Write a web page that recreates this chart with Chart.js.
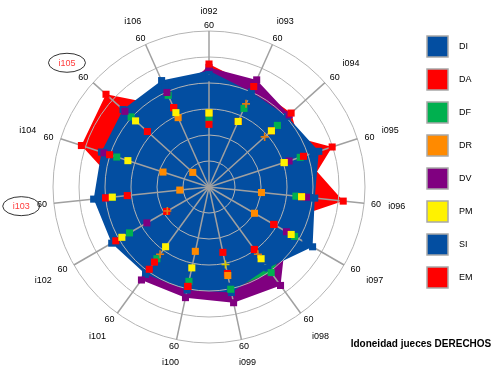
<!DOCTYPE html>
<html>
<head>
<meta charset="utf-8">
<script src="https://cdn.jsdelivr.net/npm/chart.js@4/dist/chart.umd.min.js"></script>
<style>
html,body{margin:0;padding:0;background:#fff;}
#wrap{width:501px;height:371px;position:relative;overflow:hidden;}
canvas{display:block;}
</style>
</head>
<body>
<div id="wrap"><canvas id="c" width="501" height="371"></canvas></div>
<script>
// ---- data ----
const categories = ['i092','i093','i094','i095','i096','i097','i098','i099','i100','i101','i102','i103','i104','i105','i106'];
const highlighted = ['i105','i103'];
const tickLabel = '60';
const scaleMax = 60;
const seriesNames = ['DI','DA','DF','DR','DV','PM','SI','EM'];

const DI = [44.7, 40.0, 40.5, 44.4, 40.9, 46.0, 38.5, 41.5, 40.5, 41.5, 43.2, 44.6, 43.5, 44.5, 44.8];
const DA = [24.1, 27.6, 32.3, 49.8, 35.8, 28.8, 29.7, 25.7, 39.1, 35.7, 18.8, 31.6, 51.6, 53.3, 33.4];
const DF = [26.2, 33.1, 35.4, 36.9, 33.6, 38.0, 40.7, 40.2, 37.1, 34.1, 35.3, 37.4, 37.3, 40.3, 38.6];
const DR = [28.5, 35.0, 28.8, 30.4, 20.3, 20.2, 32.0, 34.8, 25.3, 32.0, 18.5, 11.3, 18.6, 8.4, 29.2];
const DV = [46.0, 45.1, 41.5, 32.4, 37.7, 34.4, 46.8, 45.5, 43.5, 44.2, 27.6, 40.0, 42.5, 43.5, 39.8];
const PM = [28.5, 27.6, 32.3, 30.4, 35.8, 36.5, 34.1, 30.5, 31.8, 28.4, 38.7, 37.4, 32.8, 38.0, 31.3];
const SI = [42.0, 38.0, 38.0, 42.0, 39.0, 43.0, 35.0, 39.0, 38.0, 39.0, 41.0, 42.0, 41.0, 42.0, 42.0];
const EM = [47.3, 42.3, 42.5, 38.2, 51.9, 28.8, 29.7, 34.0, 39.1, 39.1, 41.4, 40.0, 40.2, 31.9, 33.4];

const chartTitle = 'Idoneidad jueces DERECHOS';

// ---- styling ----
const colors = {DI:'#034ea1', DA:'#ff0000', DF:'#00b04f', DR:'#ff8a00', DV:'#800080', PM:'#fff200', SI:'#034ea1', EM:'#ff0000'};
const values = {DI, DA, DF, DR, DV, PM, SI, EM};
// points drawn as small "+" marks in the reference
const crossPoints = {DR: ['i093','i094','i098','i101','i102'], PM: ['i099']};
// fill stacking (lower order = drawn on top)
const fillOrder = {DI:10, DA:11, DF:12, DR:13, DV:14, PM:15, SI:16, EM:17};
// marker stacking (lower order = drawn on top)
const markOrder = {PM:1, DR:2, DA:3, EM:4, DV:5, DF:6, SI:7, DI:8};

const datasets = [];
seriesNames.forEach(n => {
  datasets.push({
    label: n + ' area', data: values[n], order: fillOrder[n],
    backgroundColor: colors[n], borderWidth: 0, fill: true,
    pointRadius: 0, pointHoverRadius: 0
  });
});
seriesNames.forEach(n => {
  const crosses = crossPoints[n] || [];
  const isCross = c => crosses.includes(categories[c.dataIndex]);
  datasets.push({
    label: n, data: values[n], order: markOrder[n],
    showLine: false, fill: false, borderWidth: 0,
    pointStyle: c => isCross(c) ? 'cross' : 'rect',
    pointRadius: c => isCross(c) ? 4 : 5,
    pointBorderWidth: c => isCross(c) ? 1.6 : 0,
    pointBorderColor: n === 'DR' ? '#e07a10' : '#d8c800',
    pointBackgroundColor: colors[n], backgroundColor: colors[n]
  });
});

const FONT = '"Liberation Sans", Arial, sans-serif';
// the reference ring is slightly elliptical; labels follow it
const EX = 1.016, EY = 0.981;

const decorPlugin = {
  id: 'decor',
  afterDraw(chart) {
    const s = chart.scales.r;
    const ctx = chart.ctx;
    const R = s.drawingArea;
    const cx0 = s.xCenter, cy0 = s.yCenter;
    ctx.save();
    ctx.font = '9px ' + FONT;
    ctx.textAlign = 'center';
    ctx.textBaseline = 'middle';
    const th = 9;
    categories.forEach((cat, i) => {
      const ring = s.getPointPosition(i, R);
      const ux = (ring.x - cx0) / R, uy = (ring.y - cy0) / R;
      const bx = cx0 + (ring.x - cx0) * EX, by = cy0 + (ring.y - cy0) * EY;
      const tw = ctx.measureText(tickLabel).width;
      const ext60 = Math.abs(ux) * tw / 2 + Math.abs(uy) * th / 2;
      const e60 = 4 + ext60;
      const px = bx + ux * e60, py = by + uy * e60;
      ctx.fillStyle = '#000';
      ctx.fillText(tickLabel, px, py + 0.5);
      const nw = ctx.measureText(cat).width;
      const extN = Math.abs(ux) * nw / 2 + Math.abs(uy) * th / 2;
      const eN = ext60 + 5 + 1.5 * ux * ux + extN;
      const qx = px + ux * eN, qy = py + uy * eN;
      if (highlighted.includes(cat)) {
        ctx.fillStyle = '#ff3b3b';
        ctx.fillText(cat, qx, qy + 0.5);
        ctx.beginPath();
        ctx.ellipse(qx, qy, nw / 2 + 10, 9.5, 0, 0, Math.PI * 2);
        ctx.strokeStyle = '#333';
        ctx.lineWidth = 1;
        ctx.stroke();
      } else {
        ctx.fillStyle = '#000';
        ctx.fillText(cat, qx, qy + 0.5);
      }
    });
    // legend
    ctx.textAlign = 'left';
    seriesNames.forEach((n, k) => {
      const y = 36 + 33 * k;
      ctx.fillStyle = colors[n];
      ctx.fillRect(427, y, 21, 21);
      ctx.strokeStyle = '#a8a8a8';
      ctx.lineWidth = 1.5;
      ctx.strokeRect(427, y, 21, 21);
      ctx.fillStyle = '#000';
      ctx.font = '9px ' + FONT;
      ctx.fillText(n, 459, y + 11);
    });
    // title
    ctx.font = 'bold 10px ' + FONT;
    ctx.textAlign = 'center';
    ctx.fillStyle = '#000';
    ctx.fillText(chartTitle, 421, 344);
    ctx.restore();
  }
};

new Chart(document.getElementById('c'), {
  type: 'radar',
  data: { labels: categories, datasets },
  options: {
    responsive: false,
    animation: false,
    layout: { padding: { left: 53, right: 136, top: 31, bottom: 28 } },
    scales: {
      r: {
        min: 0, max: scaleMax,
        ticks: { display: false, stepSize: 10 },
        grid: { circular: true, color: '#b4b4b4', lineWidth: 1 },
        angleLines: { color: '#a0a0a0', lineWidth: 1.5 },
        pointLabels: { display: false }
      }
    },
    plugins: {
      legend: { display: false },
      tooltip: { enabled: false },
      filler: { drawTime: 'beforeDraw' }
    }
  },
  plugins: [decorPlugin]
});
</script>
</body>
</html>
